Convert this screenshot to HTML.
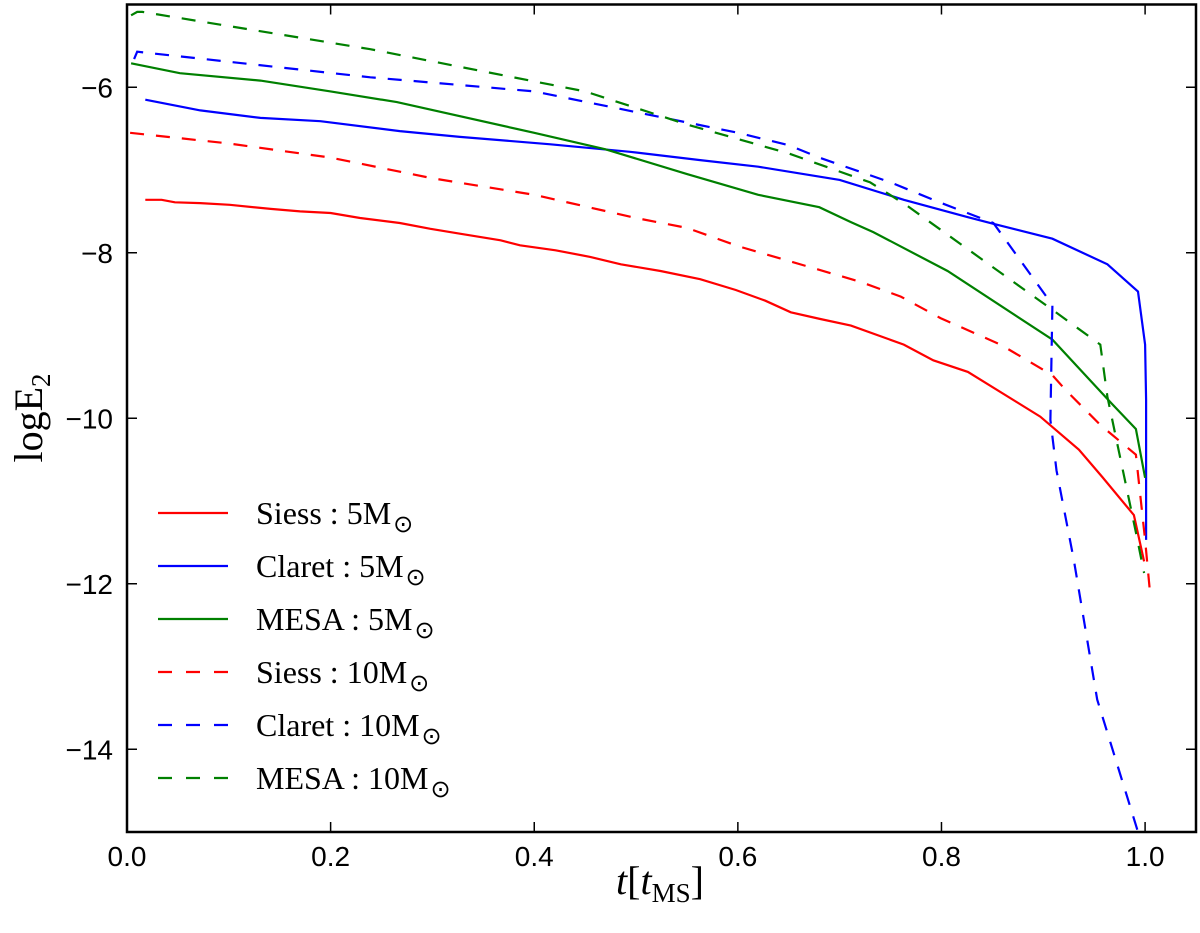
<!DOCTYPE html>
<html><head><meta charset="utf-8"><style>
body{margin:0;background:#fff;}
svg text{font-family:"Liberation Sans",sans-serif;}
.serif{font-family:"Liberation Serif",serif;}
</style></head><body>
<svg id="chart" width="1200" height="928" xmlns="http://www.w3.org/2000/svg">
<g id="plot"></g>
</svg>
<script>
const xTicks=[0.0,0.2,0.4,0.6,0.8,1.0];
const xTickLabels=["0.0","0.2","0.4","0.6","0.8","1.0"];
const yTicks=[-6,-8,-10,-12,-14];
const yTickLabels=["\u22126","\u22128","\u221210","\u221212","\u221214"];
const seriesNames=["Siess : 5M","Claret : 5M","MESA : 5M","Siess : 10M","Claret : 10M","MESA : 10M"];
const siess5X=[.018,.034,.047,.072,.101,.141,.170,.200,.229,.268,.298,.327,.367,.386,.421,.455,.485,.524,.563,.598,.627,.652,.681,.711,.763,.792,.826,.897,.935,.958,.989,.999];
const siess5Y=[-7.36,-7.36,-7.39,-7.40,-7.42,-7.47,-7.50,-7.52,-7.58,-7.64,-7.71,-7.77,-7.85,-7.91,-7.97,-8.05,-8.14,-8.22,-8.32,-8.45,-8.58,-8.72,-8.80,-8.88,-9.11,-9.30,-9.44,-9.98,-10.38,-10.71,-11.17,-11.73];
const claret5X=[.018,.072,.131,.190,.268,.327,.416,.494,.563,.620,.700,.763,.826,.851,.909,.963,.993,1.000,1.001,1.001];
const claret5Y=[-6.15,-6.28,-6.37,-6.41,-6.53,-6.60,-6.69,-6.78,-6.88,-6.96,-7.12,-7.36,-7.57,-7.65,-7.83,-8.14,-8.47,-9.11,-9.78,-11.47];
const mesa5X=[.004,.052,.131,.200,.265,.400,.470,.550,.620,.680,.711,.733,.806,.909,.967,.991,1.000];
const mesa5Y=[-5.71,-5.83,-5.92,-6.05,-6.18,-6.55,-6.75,-7.05,-7.30,-7.45,-7.63,-7.75,-8.22,-9.05,-9.82,-10.13,-10.72];
const siess10X=[.003,.100,.200,.300,.400,.500,.550,.600,.650,.720,.760,.799,.858,.909,.922,.956,.991,1.000,1.005];
const siess10Y=[-6.55,-6.68,-6.85,-7.10,-7.30,-7.58,-7.70,-7.92,-8.10,-8.35,-8.53,-8.79,-9.11,-9.48,-9.66,-10.08,-10.44,-11.47,-12.13];
const claret10X=[.007,.010,.239,.400,.500,.600,.650,.680,.750,.800,.851,.909,.907,.913,.930,.953,.993];
const claret10Y=[-5.66,-5.57,-5.88,-6.05,-6.30,-6.55,-6.70,-6.85,-7.15,-7.40,-7.64,-8.63,-10.02,-10.63,-11.71,-13.40,-15.00];
const mesa10X=[.004,.010,.015,.239,.450,.550,.650,.730,.765,.909,.956,.963,.991,.999];
const mesa10Y=[-5.13,-5.09,-5.09,-5.54,-6.05,-6.45,-6.80,-7.15,-7.42,-8.69,-9.11,-9.74,-11.38,-11.87];

const L=127,R=1196,T=4.5,B=832,X0=0,X1=1.05,Y0=-15,Y1=-5;
const sx=v=>L+(v-X0)/(X1-X0)*(R-L);
const sy=v=>B-(v-Y0)/(Y1-Y0)*(B-T);
const NS="http://www.w3.org/2000/svg";
const svg=document.getElementById('chart');
function mk(tag,at,parent){const e=document.createElementNS(NS,tag);for(const k in at)e.setAttribute(k,at[k]);(parent||svg).appendChild(e);return e;}
const series=[[siess5X,siess5Y,'#ff0000',false,'siess-5-line'],[claret5X,claret5Y,'#0000ff',false,'claret-5-line'],[mesa5X,mesa5Y,'#008000',false,'mesa-5-line'],[siess10X,siess10Y,'#ff0000',true,'siess-10-line'],[claret10X,claret10Y,'#0000ff',true,'claret-10-line'],[mesa10X,mesa10Y,'#008000',true,'mesa-10-line']];
const clip=mk('clipPath',{id:'c'});mk('rect',{x:L,y:T,width:R-L,height:B-T},clip);
const plot=document.getElementById('plot');plot.setAttribute('clip-path','url(#c)');
series.forEach(s=>{
  const d=s[0].map((x,i)=>(i?'L':'M')+sx(x).toFixed(1)+' '+sy(s[1][i]).toFixed(1)).join(' ');
  const p=mk('path',{d:d,fill:'none',stroke:s[2],'stroke-width':2.2},plot);
  if(s[3])p.setAttribute('stroke-dasharray','14 12');
  
  
});
const frame=mk('rect',{x:L,y:T,width:R-L,height:B-T,fill:'none',stroke:'#000','stroke-width':2.5});


xTicks.forEach((v,i)=>{
  const x=sx(v);
  mk('line',{x1:x,x2:x,y1:B,y2:B-10,stroke:'#000','stroke-width':1.5});
  mk('line',{x1:x,x2:x,y1:T,y2:T+10,stroke:'#000','stroke-width':1.5});
  const t=mk('text',{x:x,y:B+34,'text-anchor':'middle','font-size':28});t.textContent=xTickLabels[i];
  
  
});
yTicks.forEach((v,i)=>{
  const y=sy(v);
  mk('line',{x1:L,x2:L+10,y1:y,y2:y,stroke:'#000','stroke-width':1.5});
  mk('line',{x1:R,x2:R-10,y1:y,y2:y,stroke:'#000','stroke-width':1.5});
  const t=mk('text',{x:L-14,y:y+10,'text-anchor':'end','font-size':28});t.textContent=yTickLabels[i];
  
  
});
// legend
const rows=[513,566,619,672,725,778];
series.forEach((s,i)=>{
  const y=rows[i];
  const l=mk('line',{x1:158,x2:228,y1:y,y2:y,stroke:s[2],'stroke-width':2.2});
  if(s[3])l.setAttribute('stroke-dasharray','14 14');
  
  
  const t=mk('text',{x:256,y:y+11,'font-size':32,'class':'serif'});
  t.textContent=seriesNames[i];
  const sub=mk('tspan',{'font-size':24,dy:8,dx:2},t);sub.textContent='\u2299';
  
  
});
const xl=mk('text',{x:660,y:894,'text-anchor':'middle','font-size':40,'class':'serif'});
xl.innerHTML='<tspan font-style="italic">t</tspan>[<tspan font-style="italic">t</tspan><tspan font-size="27" dy="8">MS</tspan><tspan dy="-8">]</tspan>';


const yl=mk('text',{x:0,y:0,'text-anchor':'middle','font-size':40,'class':'serif',transform:'translate(42,418) rotate(-90)'});
yl.innerHTML='logE<tspan font-size="27" dy="8">2</tspan>';


</script>
</body></html>
